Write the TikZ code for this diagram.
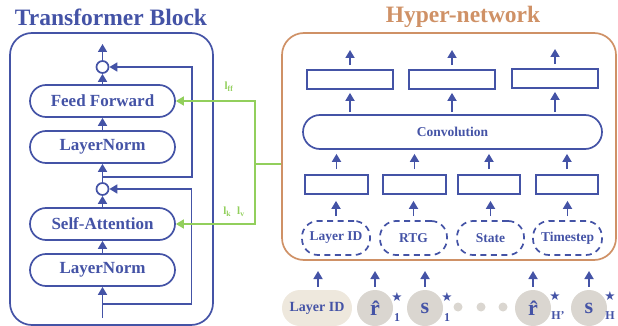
\documentclass[tikz,border=0pt]{standalone}
\usepackage{fontspec}
\setmainfont{Liberation Serif}
\newfontfamily\symbfont{DejaVu Sans}
\usetikzlibrary{arrows.meta,positioning,calc}
\definecolor{tfblue}{HTML}{4453A6}
\definecolor{hyperorange}{HTML}{CF9166}
\definecolor{branchgreen}{HTML}{92CF5C}
\definecolor{tokengray}{HTML}{DAD6D0}
\definecolor{idbeige}{HTML}{EEE8DD}

\begin{document}
\begin{tikzpicture}[x=1pt,y=-1pt,
    flow/.style={-{Triangle[length=8pt,width=9pt]},line width=1.7pt,draw=tfblue},
    gflow/.style={-{Triangle[length=8pt,width=9pt]},line width=1.7pt,draw=branchgreen},
    paneltitle/.style={font=\fontsize{23.5}{24}\selectfont\bfseries},
    panel/.style={line width=1.7pt,rounded corners=22pt},
    layerbox/.style={draw=tfblue,line width=1.7pt,rounded corners=16pt,fill=white,minimum width=145pt,minimum height=32pt,text=tfblue,font=\fontsize{17}{17}\selectfont\bfseries},
    addnode/.style={circle,draw=tfblue,line width=1.7pt,fill=white,minimum size=12pt,inner sep=0pt},
    wbox/.style={draw=tfblue,line width=1.7pt,fill=white,minimum height=19pt},
    inbox/.style={draw=tfblue,line width=1.7pt,dash pattern=on 6pt off 4.5pt,rounded corners=16pt,minimum height=34pt,text=tfblue,font=\fontsize{13.5}{13.5}\selectfont\bfseries},
    token/.style={circle,fill=tokengray,minimum size=36pt,inner sep=0pt,text=tfblue,font=\fontsize{22}{22}\selectfont\bfseries},
    tokmark/.style={text=tfblue,inner sep=0pt,font=\fontsize{12}{12}\selectfont\bfseries},
    tokstar/.style={text=tfblue,inner sep=0pt,font=\symbfont\fontsize{12.5}{12.5}\selectfont},
    glabel/.style={text=branchgreen,inner sep=0pt,font=\fontsize{11}{11}\selectfont\bfseries}]
    \useasboundingbox (0,0) rectangle (618,326);
    % Transformer block
    \node[paneltitle,text=tfblue] (tftitle) at (111,17) {Transformer Block};
    \node[panel,draw=tfblue,minimum width=203pt,minimum height=292pt] (tfpanel) at (111.5,179) {};
    \node[layerbox] (norm1) at (102.5,270) {LayerNorm};
    \node[layerbox] (attn) at (102.5,224) {Self-Attention};
    \node[layerbox] (norm2) at (102.5,147) {LayerNorm};
    \node[layerbox] (ffn) at (102.5,101) {Feed Forward};
    \node[addnode] (add1) at (102.5,189) {};
    \node[addnode] (add2) at (102.5,67) {};
    \coordinate (xin) at (102.5,318);
    \coordinate (xout) at (102.5,44);
    \coordinate (skip1) at (102.5,304);
    \coordinate (skip2) at (102.5,177);
    % main path
    \draw[flow] (xin) -- (norm1);
    \draw[flow] (norm1) -- (attn);
    \draw[flow] (attn) -- (add1);
    \draw[flow] (add1) -- (norm2);
    \draw[flow] (norm2) -- (ffn);
    \draw[flow] (ffn) -- (add2);
    \draw[flow] (add2) -- (xout);
    % residuals
    \draw[flow] (skip1) -- ++(89,0) |- (add1);
    \draw[flow] (skip2) -- ++(89.5,0) |- (add2);
    % Hyper-network
    \node[paneltitle,text=hyperorange] (hytitle) at (463,17) {Hyper-network};
    \node[panel,draw=hyperorange,minimum width=334pt,minimum height=227pt] (hyper) at (449,146.5) {};
    \node[wbox,minimum width=86pt] (out1) at (350,79.5) {};
    \node[wbox,minimum width=86pt] (out2) at (452,79.5) {};
    \node[wbox,minimum width=86pt] (out3) at (555,78.5) {};
    \node[layerbox,minimum width=299pt,minimum height=34pt,rounded corners=17pt,font=\fontsize{13.5}{13.5}\selectfont\bfseries] (conv) at (452.5,132) {Convolution};
    \node[wbox,minimum width=63pt] (emb1) at (336.5,184.5) {};
    \node[wbox,minimum width=63pt] (emb2) at (414.5,184.5) {};
    \node[wbox,minimum width=62pt] (emb3) at (489,184.5) {};
    \node[wbox,minimum width=62pt] (emb4) at (567,184.5) {};
    \node[inbox,minimum width=68pt] (in1) at (336,238) {Layer ID};
    \node[inbox,minimum width=67pt] (in2) at (413.5,238) {RTG};
    \node[inbox,minimum width=67pt] (in3) at (490.5,238) {State};
    \node[inbox,minimum width=69pt] (in4) at (567.5,238) {Timestep};
    \coordinate (w1) at (350,50);
    \coordinate (w2) at (452,50);
    \coordinate (w3) at (555,49);
    \draw[flow,shorten <=4pt] (out1) -- (w1);
    \draw[flow,shorten <=4pt] (out2) -- (w2);
    \draw[flow,shorten <=4pt] (out3) -- (w3);
    \draw[flow,shorten <=2pt,shorten >=3pt] (conv.north -| out1) -- (out1);
    \draw[flow,shorten <=2pt,shorten >=3pt] (conv.north -| out2) -- (out2);
    \draw[flow,shorten <=2pt,shorten >=3pt] (conv.north -| out3) -- (out3);
    \draw[flow,shorten <=5pt,shorten >=4pt] (emb1) -- (emb1 |- conv.south);
    \draw[flow,shorten <=5pt,shorten >=4pt] (emb2) -- (emb2 |- conv.south);
    \draw[flow,shorten <=5pt,shorten >=4pt] (emb3) -- (emb3 |- conv.south);
    \draw[flow,shorten <=5pt,shorten >=4pt] (emb4) -- (emb4 |- conv.south);
    \draw[flow,shorten <=4pt,shorten >=6pt] (in1) -- (in1 |- emb1.south);
    \draw[flow,shorten <=4pt,shorten >=6pt] (in2) -- (in2 |- emb2.south);
    \draw[flow,shorten <=4pt,shorten >=6pt] (in3) -- (in3 |- emb3.south);
    \draw[flow,shorten <=4pt,shorten >=6pt] (in4) -- (in4 |- emb4.south);
    % generated weights to the block
    \coordinate (tap) at (255,164);
    \draw[line width=1.7pt,draw=branchgreen] (hyper.west |- tap) -- (tap);
    \draw[gflow] (tap) |- (ffn.east);
    \draw[gflow] (tap) |- (attn.east);
    \node[glabel] (lff) at (229,87) {l\textsubscript{ff}};
    \node[glabel] (lkv) at (234,212) {l\textsubscript{k}\hspace{6pt}l\textsubscript{v}};
    % input tokens
    \node[token,fill=idbeige,minimum width=70pt,minimum height=36pt,rounded corners=18pt,rectangle,font=\fontsize{14}{14}\selectfont\bfseries] (tokid) at (317,308) {Layer ID};
    \node[token] (rtg1) at (375,308) {\^{r}};
    \node[token] (st1) at (425,308) {s};
    \node[token] (rtgH) at (533,308) {\^{r}};
    \node[token] (stH) at (589,308) {s};
    \node[circle,fill=tokengray,minimum size=9pt,inner sep=0pt] (dot1) at (458,307) {};
    \node[circle,fill=tokengray,minimum size=9pt,inner sep=0pt] (dot2) at (481,307) {};
    \node[circle,fill=tokengray,minimum size=9pt,inner sep=0pt] (dot3) at (503,307) {};
    \node[tokstar] (rtg1star) at (397,297) {★};
    \node[tokmark] (rtg1sub) at (397,318) {1};
    \node[tokstar] (st1star) at (447,297) {★};
    \node[tokmark] (st1sub) at (447,318) {1};
    \node[tokstar] (rtgHstar) at (555,296) {★};
    \node[tokmark] (rtgHsub) at (558,316) {H'};
    \node[tokstar] (stHstar) at (610,296) {★};
    \node[tokmark] (stHsub) at (610,316) {H};
    \coordinate (tin0) at (318,271);
    \coordinate (tin1) at (375,271);
    \coordinate (tin2) at (425,271);
    \coordinate (tin3) at (533,271);
    \coordinate (tin4) at (589,271);
    \draw[flow,shorten <=3pt] (tokid.north -| tin0) -- (tin0);
    \draw[flow,shorten <=3pt] (rtg1) -- (tin1);
    \draw[flow,shorten <=3pt] (st1) -- (tin2);
    \draw[flow,shorten <=3pt] (rtgH) -- (tin3);
    \draw[flow,shorten <=3pt] (stH) -- (tin4);
\end{tikzpicture}
\end{document}
